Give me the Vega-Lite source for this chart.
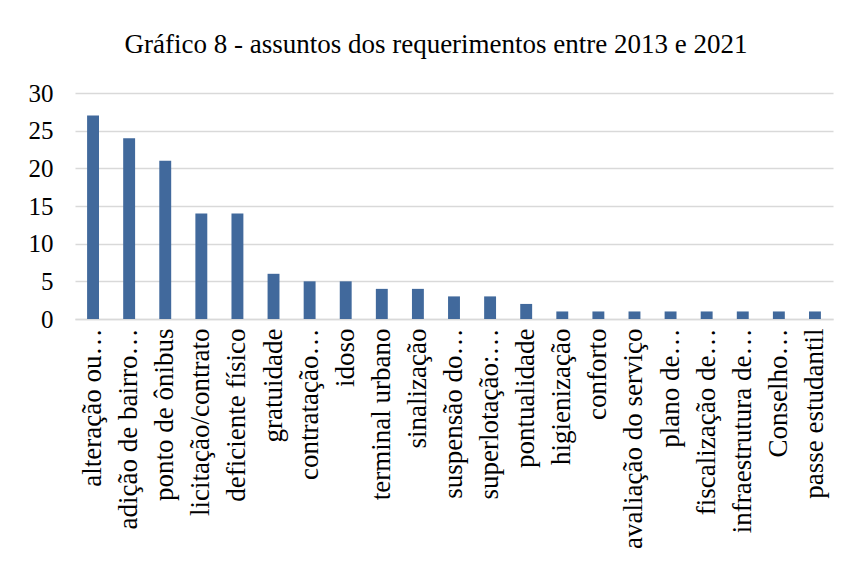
{
  "$schema": "https://vega.github.io/schema/vega-lite/v6.json",
  "autosize": "none",
  "width": 758,
  "height": 226,
  "padding": {"left": 75, "top": 93, "right": 16, "bottom": 244},
  "background": "white",
  "title": {
    "text": "Gráfico 8 - assuntos dos requerimentos entre 2013 e 2021",
    "font": "Liberation Serif",
    "fontSize": 27,
    "fontWeight": "normal",
    "color": "#000000",
    "anchor": "middle",
    "dx": -18,
    "offset": 22
  },
  "data": {
    "values": [
      {"assunto": "alteração ou…", "quantidade": 27},
      {"assunto": "adição de bairro…", "quantidade": 24},
      {"assunto": "ponto de ônibus", "quantidade": 21},
      {"assunto": "licitação/contrato", "quantidade": 14},
      {"assunto": "deficiente físico", "quantidade": 14},
      {"assunto": "gratuidade", "quantidade": 6},
      {"assunto": "contratação…", "quantidade": 5},
      {"assunto": "idoso", "quantidade": 5},
      {"assunto": "terminal urbano", "quantidade": 4},
      {"assunto": "sinalização", "quantidade": 4},
      {"assunto": "suspensão do…", "quantidade": 3},
      {"assunto": "superlotação:…", "quantidade": 3},
      {"assunto": "pontualidade", "quantidade": 2},
      {"assunto": "higienização", "quantidade": 1},
      {"assunto": "conforto", "quantidade": 1},
      {"assunto": "avaliação do serviço", "quantidade": 1},
      {"assunto": "plano de…", "quantidade": 1},
      {"assunto": "fiscalização de…", "quantidade": 1},
      {"assunto": "infraestrutura de…", "quantidade": 1},
      {"assunto": "Conselho…", "quantidade": 1},
      {"assunto": "passe estudantil", "quantidade": 1}
    ]
  },
  "mark": {"type": "bar", "color": "#41699C"},
  "encoding": {
    "x": {
      "field": "assunto",
      "type": "nominal",
      "sort": null,
      "scale": {"paddingInner": 0.67, "paddingOuter": 0.335},
      "axis": {
        "title": null,
        "labelAngle": -90,
        "labelAlign": "right",
        "labelBaseline": "middle",
        "labelFont": "Liberation Serif",
        "labelFontSize": 27,
        "labelColor": "#000000",
        "labelPadding": 9,
        "labelLimit": 300,
        "ticks": false,
        "domainColor": "#D9D9D9",
        "domainWidth": 1.5
      }
    },
    "y": {
      "field": "quantidade",
      "type": "quantitative",
      "scale": {"domain": [0, 30]},
      "axis": {
        "title": null,
        "values": [0, 5, 10, 15, 20, 25, 30],
        "labelFont": "Liberation Serif",
        "labelFontSize": 25,
        "labelColor": "#000000",
        "labelPadding": 22,
        "ticks": false,
        "domain": false,
        "gridColor": "#D9D9D9",
        "gridWidth": 1.5
      }
    }
  },
  "config": {"view": {"stroke": null}}
}
